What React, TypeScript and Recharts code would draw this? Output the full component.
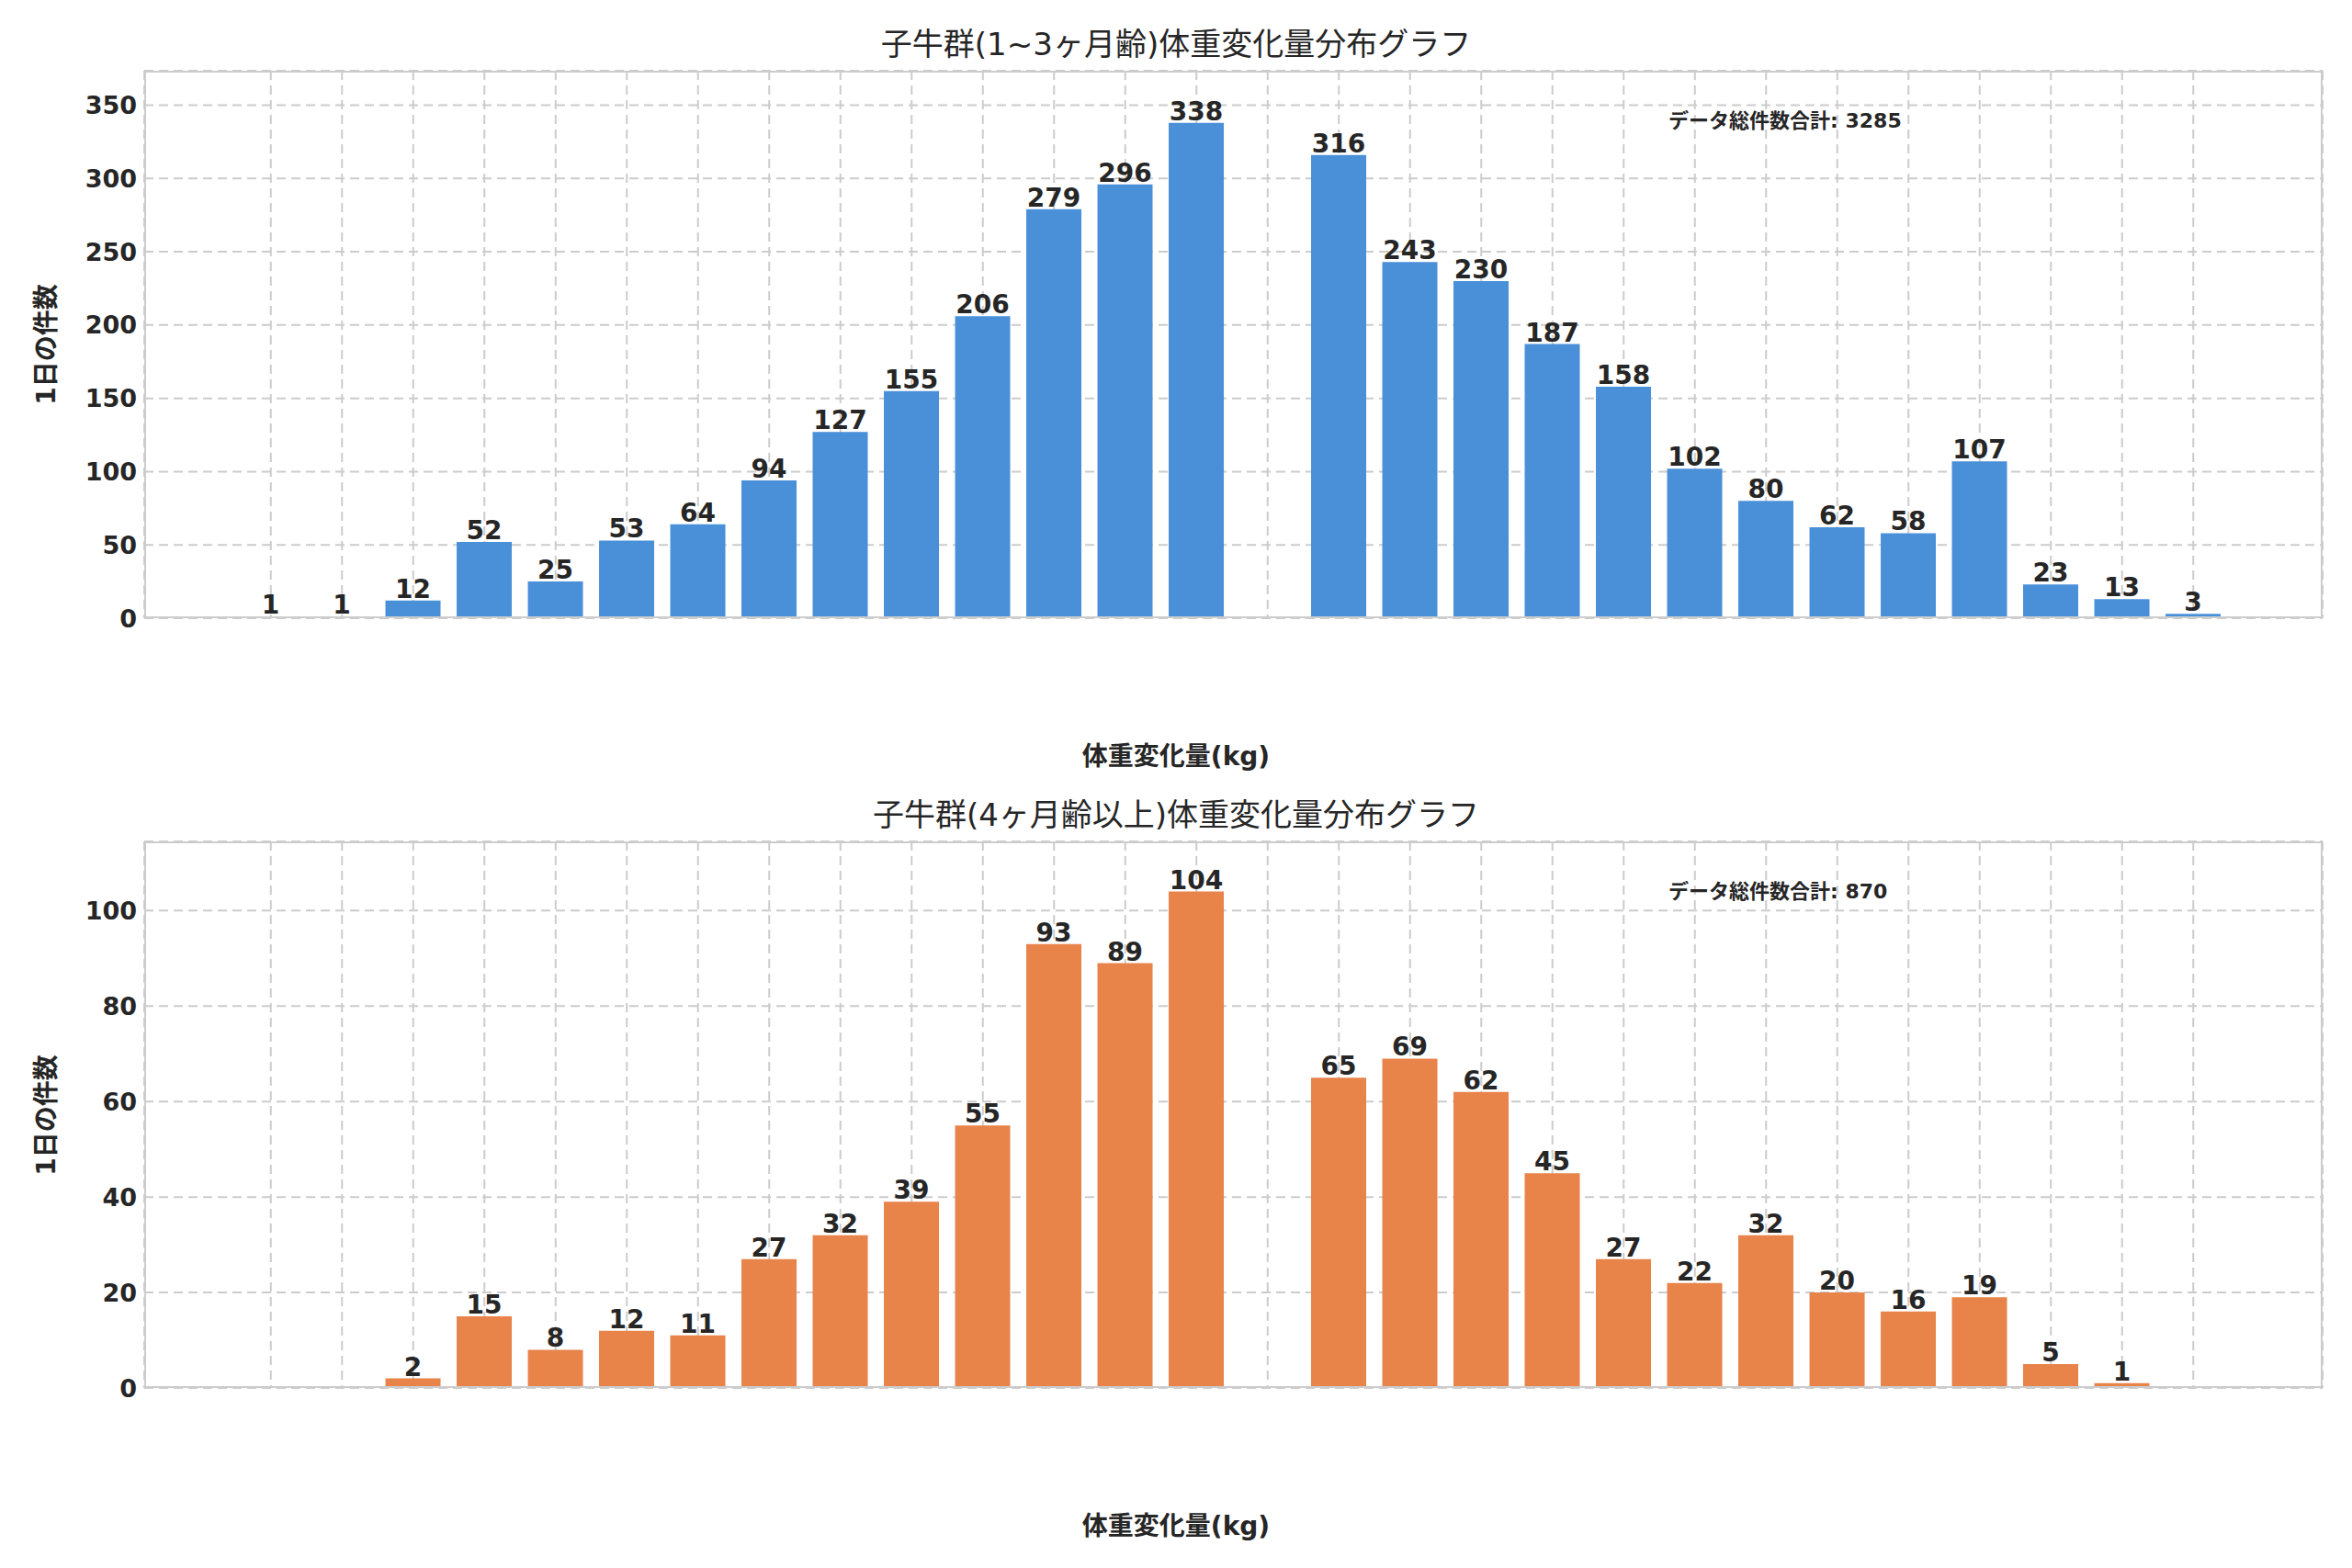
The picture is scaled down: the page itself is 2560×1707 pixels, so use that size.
import React from 'react';
import { BarChart, Bar, XAxis, YAxis, CartesianGrid, LabelList } from 'recharts';

const categories = [
  '~-25', '-25~-20', '-20~-15', '-15~-10', '-10~-9', '-9', '-8', '-7', '-6', '-5', '-4', '-3', '-2', '-1', '±0',
  '+1', '+2', '+3', '+4', '+5', '+6', '+7', '+8', '+9', '+10~+15', '+15~+20', '+20~+25', '+25~',
];
const youngCounts = [1, 1, 12, 52, 25, 53, 64, 94, 127, 155, 206, 279, 296, 338, 0, 316, 243, 230, 187, 158, 102, 80, 62, 58, 107, 23, 13, 3];
const olderCounts = [0, 0, 2, 15, 8, 12, 11, 27, 32, 39, 55, 93, 89, 104, 0, 65, 69, 62, 45, 27, 22, 32, 20, 16, 19, 5, 1, 0];
const youngTicks = [0, 50, 100, 150, 200, 250, 300, 350];
const olderTicks = [0, 20, 40, 60, 80, 100];

const FONT = '"DejaVu Sans", "Noto Sans CJK JP", sans-serif';
const TEXT = '#262626';

const XTick = (props: any) => {
  const { x, y, payload } = props;
  const tx = x + 38;
  const ty = y + 14;
  return (
    <text x={tx} y={ty} textAnchor="end" dominantBaseline="hanging" fontSize={28} fontWeight="bold"
      fill={TEXT} fontFamily={FONT} transform={`rotate(-30, ${tx}, ${ty})`}>
      {payload.value}
    </text>
  );
};

const ValueLabel = (props: any) => {
  const { x, y, width, value } = props;
  if (!value) return null;
  return (
    <text x={x + width / 2} y={y - 3} textAnchor="middle" fontSize={28} fontWeight="bold" fill={TEXT} fontFamily={FONT}>
      {value}
    </text>
  );
};

interface PanelProps {
  values: number[];
  ticks: number[];
  max: number;
  color: string;
  title: string;
  total: number;
  top: number;
  plotTop: number;
  plotBottom: number;
}

function Panel({ values, ticks, max, color, title, total, top, plotTop, plotBottom }: PanelProps) {
  const height = 854;
  const data = categories.map((c, i) => ({ name: c, value: values[i] }));
  const pTop = plotTop - top;
  const pBottom = height - (plotBottom - top);
  return (
    <div style={{ position: 'absolute', left: 0, top, width: 2560, height }}>
      <BarChart width={2560} height={height} data={data} barCategoryGap="11%"
        margin={{ top: pTop, right: 32, bottom: pBottom, left: 57 }}>
        <CartesianGrid stroke="#cccccc" strokeDasharray="10 6" strokeWidth={2} />
        <XAxis dataKey="name" height={0} interval={0} tick={<XTick />} tickLine={false} axisLine={false}
          padding={{ left: 99, right: 102 }} />
        <YAxis width={100} domain={[0, max]} ticks={ticks} tickLine={false} axisLine={false}
          tick={{ fontSize: 27, fontWeight: 'bold', fill: TEXT, fontFamily: FONT }} />
        <Bar dataKey="value" fill={color} isAnimationActive={false}>
          <LabelList dataKey="value" content={<ValueLabel />} />
        </Bar>
      </BarChart>
      <div style={{ position: 'absolute', left: 157, top: pTop, width: 2528 - 157, height: plotBottom - plotTop,
        border: '2px solid #cccccc', boxSizing: 'border-box', pointerEvents: 'none' }} />
      <div style={{ position: 'absolute', left: 0, width: 2560, top: pTop - 56, textAlign: 'center',
        fontSize: 34, color: TEXT, fontFamily: FONT }}>{title}</div>
      <div style={{ position: 'absolute', left: 1816, top: pTop + 36, fontSize: 22, fontWeight: 'bold',
        color: TEXT, fontFamily: FONT }}>データ総件数合計: {total}</div>
      <div style={{ position: 'absolute', left: 0, width: 2560, top: plotBottom - top + 128, textAlign: 'center',
        fontSize: 28, fontWeight: 'bold', color: TEXT, fontFamily: FONT }}>体重変化量(kg)</div>
      <div style={{ position: 'absolute', left: 48, top: pTop + (plotBottom - plotTop) / 2,
        transform: 'translate(-50%, -50%) rotate(-90deg)', whiteSpace: 'nowrap',
        fontSize: 28, fontWeight: 'bold', color: TEXT, fontFamily: FONT }}>1日の件数</div>
    </div>
  );
}

export default function App() {
  return (
    <div style={{ position: 'relative', width: 2560, height: 1707, margin: -8, background: '#ffffff', overflow: 'hidden' }}>
      <Panel values={youngCounts} ticks={youngTicks} max={373.5} color="#4a90d9"
        title="子牛群(1~3ヶ月齢)体重変化量分布グラフ" total={3285} top={0} plotTop={77} plotBottom={673} />
      <Panel values={olderCounts} ticks={olderTicks} max={114.5} color="#e8834a"
        title="子牛群(4ヶ月齢以上)体重変化量分布グラフ" total={870} top={853} plotTop={916} plotBottom={1511} />
    </div>
  );
}
